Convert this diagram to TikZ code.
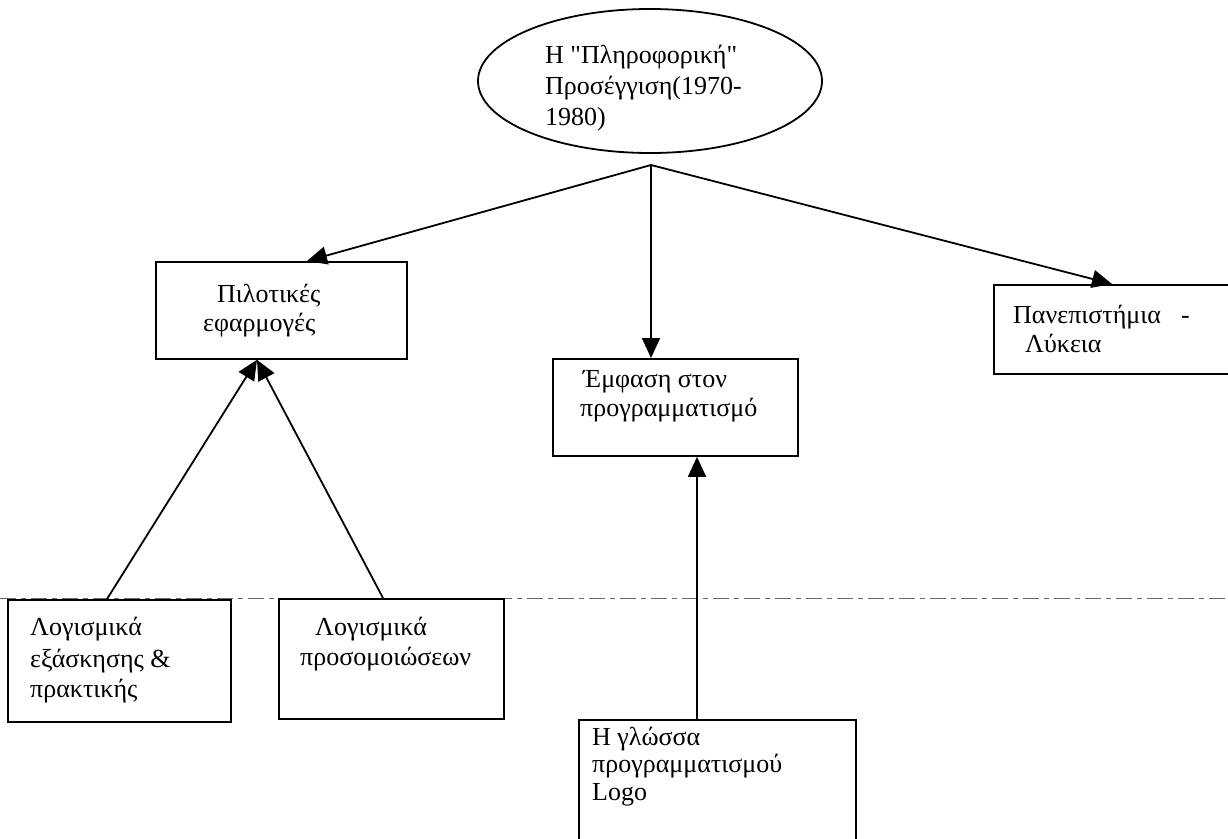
\documentclass[tikz,border=0pt]{standalone}
\usepackage{fontspec}
\newfontfamily\grfont{Liberation Serif}
\usetikzlibrary{arrows.meta,calc,shapes.geometric}
\begin{document}
\begin{tikzpicture}[x=1pt,y=-1pt,
  box/.style={draw, line width=1.8pt, rectangle, inner sep=0pt, anchor=north west},
  oval/.style={draw, line width=1.8pt, ellipse, inner sep=0pt},
  lbl/.style={anchor=base west, inner sep=0pt, font=\grfont\fontsize{26}{31}\selectfont},
  arr/.style={line width=1.8pt, -{Triangle[length=20pt,width=18pt]}},
  divider/.style={line width=1pt, black!60, dash pattern=on 16pt off 5pt on 5pt off 5pt}]
\useasboundingbox (0,0) rectangle (1228,838);

% period divider
\coordinate (divL) at (0,598);
\coordinate (divR) at (1228,598);
\draw[divider] (divL) -- (divR);

% shapes
\node[oval, minimum width=344pt, minimum height=144pt] (top) at (650,81) {};
\node[box, minimum width=251pt, minimum height=97pt]  (pilot) at (155,261) {};
\node[box, minimum width=245pt, minimum height=97pt]  (emph)  at (552,358) {};
\node[box, minimum width=250pt, minimum height=89pt]  (uni)   at (993,284) {};
\node[box, minimum width=223pt, minimum height=122pt] (soft1) at (7,599) {};
\node[box, minimum width=225pt, minimum height=120pt] (soft2) at (278,598) {};
\node[box, minimum width=277pt, minimum height=140pt] (logo)  at (578,719) {};

% texts
\node[lbl] (t1a) at (545,63)  {Η "Πληροφορική"};
\node[lbl] (t1b) at (545,94)  {Προσέγγιση(1970-};
\node[lbl] (t1c) at (545,125) {1980)};
\node[lbl] (t2a) at (217,302) {Πιλοτικές};
\node[lbl] (t2b) at (203,331) {εφαρμογές};
\node[lbl] (t3a) at (583,387) {Έμφαση στον};
\node[lbl] (t3b) at (580,416) {προγραμματισμό};
\node[lbl] (t4a) at (1013,323) {Πανεπιστήμια\hspace{20pt}-};
\node[lbl] (t4b) at (1025,352) {Λύκεια};
\node[lbl] (t5a) at (30,635) {Λογισμικά};
\node[lbl] (t5b) at (30,667) {εξάσκησης \&};
\node[lbl] (t5c) at (30,697) {πρακτικής};
\node[lbl] (t6a) at (315,635) {Λογισμικά};
\node[lbl] (t6b) at (300,665) {προσομοιώσεων};
\node[lbl] (t7a) at (592,745) {Η γλώσσα};
\node[lbl] (t7b) at (592,772) {προγραμματισμού};
\node[lbl] (t7c) at (592,800) {Logo};

% connectors
\coordinate (hub) at (651,165);
\coordinate (pilotIn) at ($(pilot.north west)+(152,0)$);
\coordinate (uniIn) at ($(uni.north west)+(119,0)$);
\coordinate (pilotBase) at ($(pilot.south west)+(102,0)$);
\coordinate (s1out) at ($(soft1.north west)+(100,0)$);
\coordinate (s2out) at ($(soft2.north west)+(105,0)$);
\coordinate (lgout) at ($(logo.north west)+(119,0)$);

\draw[arr] (hub) -- (pilotIn);
\draw[arr] (hub) -- (hub |- emph.north);
\draw[arr] (hub) -- (uniIn);
\draw[arr] (s1out) -- (pilotBase);
\draw[arr] (s2out) -- (pilotBase);
\draw[arr] (lgout) -- (lgout |- emph.south);
\end{tikzpicture}
\end{document}
